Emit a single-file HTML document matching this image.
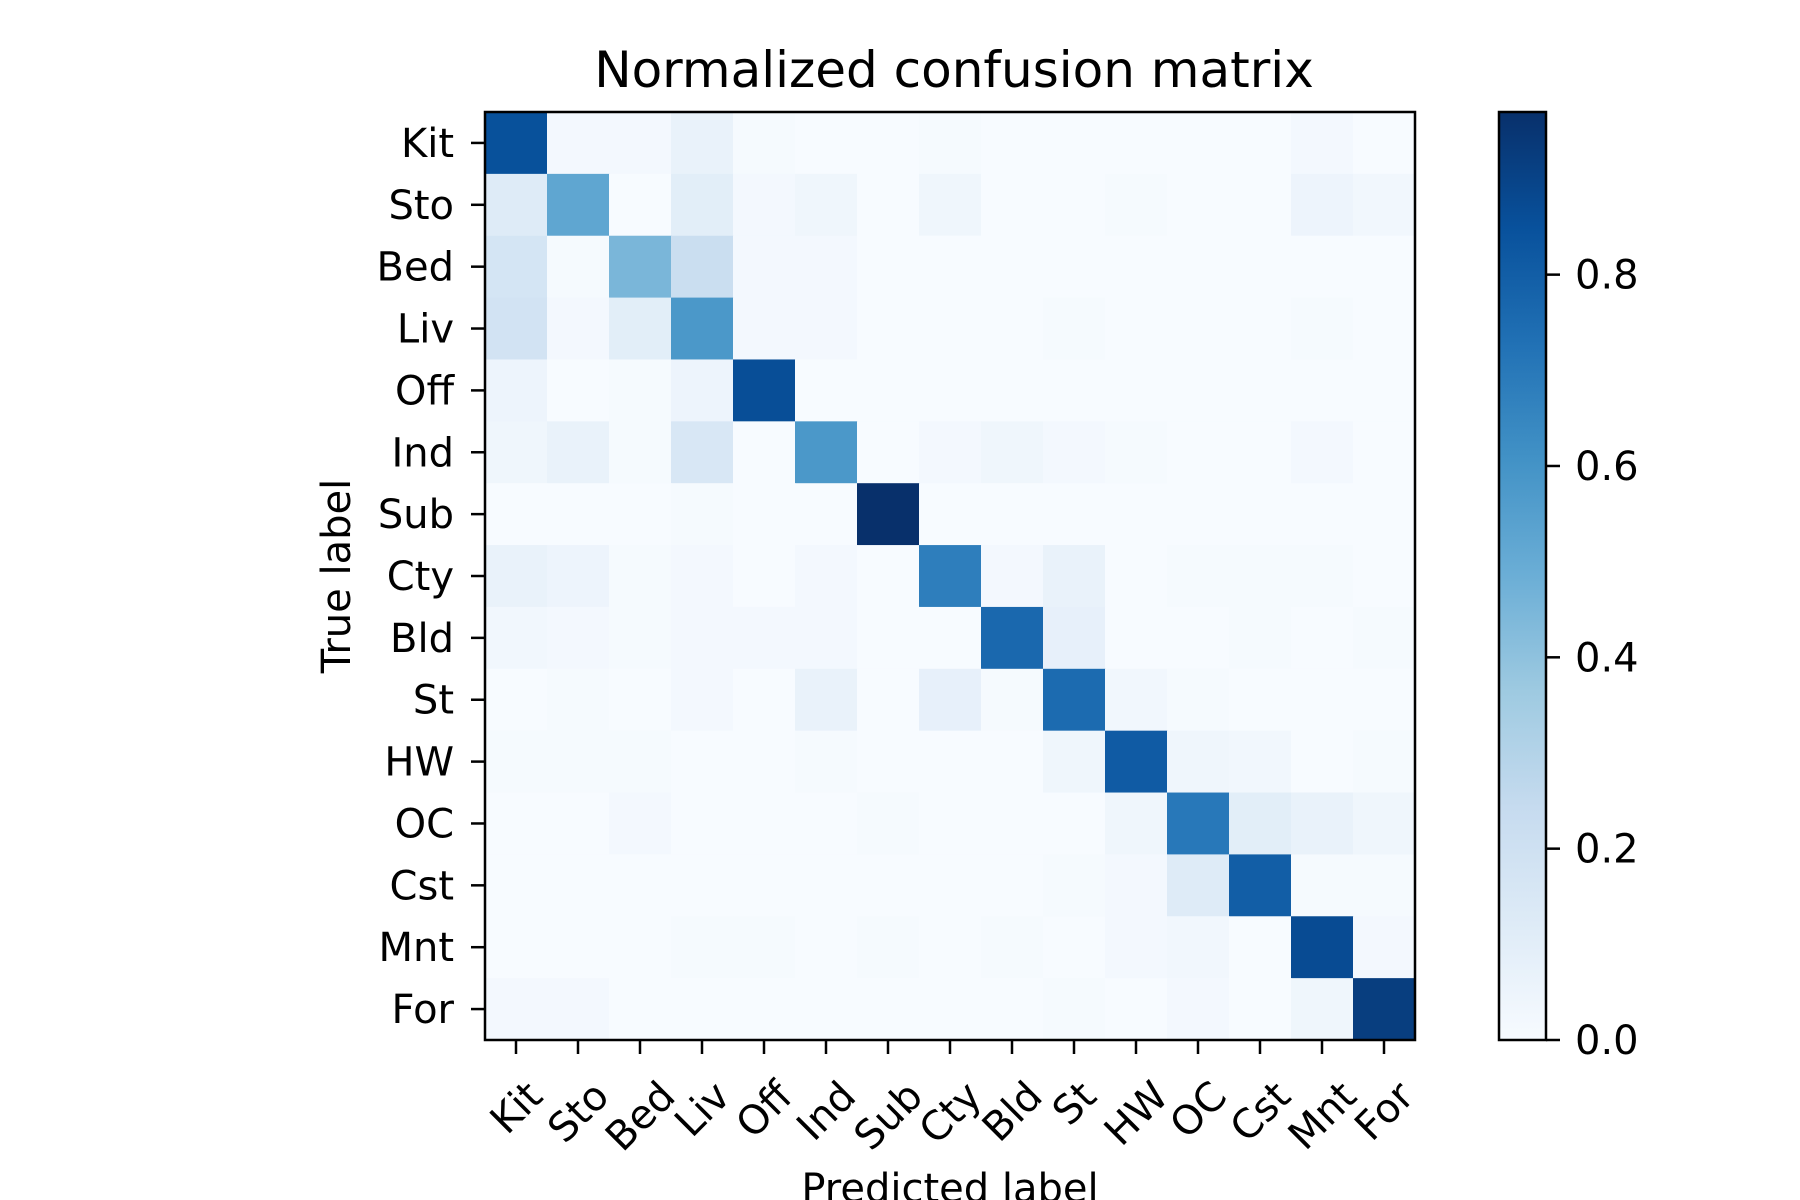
<!DOCTYPE html>
<html><head><meta charset="utf-8"><style>
html,body{margin:0;padding:0;background:#fff}
svg{display:block;font-family:"DejaVu Sans","Liberation Sans",sans-serif}
</style></head><body>
<svg id="chart" width="1800" height="1200" viewBox="0 0 1800 1200">
<rect width="1800" height="1200" fill="#fff"/>
<text x="954" y="87" font-size="50" text-anchor="middle">Normalized confusion matrix</text>
<g id="cells"></g>
<rect x="485" y="112" width="930" height="928" fill="none" stroke="#000" stroke-width="2.5"/>
<g id="ticks"></g>
<text x="0" y="0" font-size="40" text-anchor="middle" transform="translate(350,576) rotate(-90)">True label</text>
<text x="950" y="1202" font-size="40" text-anchor="middle">Predicted label</text>
<defs><linearGradient id="cbg" x1="0" y1="1" x2="0" y2="0"></linearGradient></defs>
<rect x="1499" y="112" width="47" height="928" fill="url(#cbg)" stroke="#000" stroke-width="2.5"/>
<g id="cbticks"></g>
</svg>
<script>
const labels = ["Kit","Sto","Bed","Liv","Off","Ind","Sub","Cty","Bld","St","HW","OC","Cst","Mnt","For"];
const row0 = [0.85,0.02,0.02,0.07,0.01,0,0,0.01,0,0,0,0,0,0.02,0];
const row1 = [0.12,0.52,0,0.10,0.02,0.04,0,0.04,0,0,0.01,0,0,0.05,0.03];
const row2 = [0.17,0.01,0.45,0.22,0.02,0.02,0,0,0,0,0,0,0,0,0];
const row3 = [0.18,0.02,0.10,0.58,0.02,0.02,0,0,0,0.01,0,0,0,0.01,0];
const row4 = [0.05,0,0.01,0.05,0.86,0,0,0,0,0,0,0,0,0,0];
const row5 = [0.04,0.07,0.01,0.15,0,0.58,0,0.02,0.04,0.02,0.01,0,0,0.02,0];
const row6 = [0,0,0,0.01,0,0,0.97,0,0,0,0,0,0,0,0];
const row7 = [0.07,0.05,0.01,0.02,0,0.02,0,0.68,0.02,0.07,0,0.01,0.01,0.01,0];
const row8 = [0.03,0.02,0.01,0.02,0.02,0.02,0,0,0.76,0.08,0,0,0.01,0,0.01];
const row9 = [0,0.01,0,0.02,0,0.07,0,0.08,0.01,0.75,0.03,0.01,0,0,0];
const row10 = [0.01,0.01,0.01,0,0,0.01,0,0,0,0.04,0.81,0.04,0.03,0,0.01];
const row11 = [0,0,0.02,0,0,0,0.01,0,0,0,0.04,0.70,0.10,0.07,0.04];
const row12 = [0,0,0,0,0,0,0,0,0,0.01,0.02,0.12,0.80,0.01,0.01];
const row13 = [0,0,0,0.01,0.01,0,0.01,0,0.01,0,0.02,0.03,0,0.87,0.02];
const row14 = [0.02,0.02,0,0,0,0,0,0,0,0.01,0,0.02,0,0.04,0.92];
const matrix = [row0,row1,row2,row3,row4,row5,row6,row7,row8,row9,row10,row11,row12,row13,row14];
const cbTicks = [0.0,0.2,0.4,0.6,0.8];
const vmax = 0.97;

const NS="http://www.w3.org/2000/svg";
const X0=485,Y0=112,W=930,H=928,n=labels.length;
const cw=W/n, ch=H/n;
const xs=i=>X0+i*cw, ys=i=>Y0+i*ch;
const stops=["#f7fbff","#deebf7","#c6dbef","#9ecae1","#6baed6","#4292c6","#2171b5","#08519c","#08306b"];
function hex(h){return [1,3,5].map(k=>parseInt(h.substr(k,2),16));}
function blues(t){t=Math.max(0,Math.min(1,t));const p=t*8,i=Math.min(7,Math.floor(p)),f=p-i;
 const a=hex(stops[i]),b=hex(stops[i+1]);return "rgb("+a.map((v,k)=>Math.round(v+(b[k]-v)*f)).join(",")+")";}
const cg=document.getElementById("cells");
matrix.forEach((row,r)=>row.forEach((v,c)=>{
 const el=document.createElementNS(NS,"rect");
 el.setAttribute("x",xs(c));el.setAttribute("y",ys(r));
 el.setAttribute("width",cw+0.6);el.setAttribute("height",ch+0.6);
 el.setAttribute("fill",blues(v/vmax));
 
 
 cg.appendChild(el);
}));
const tg=document.getElementById("ticks");
labels.forEach((lab,i)=>{
 const cx=xs(i)+cw/2, cy=ys(i)+ch/2;
 const yt=document.createElementNS(NS,"line");
 yt.setAttribute("x1",X0-14);yt.setAttribute("x2",X0);yt.setAttribute("y1",cy);yt.setAttribute("y2",cy);
 yt.setAttribute("stroke","#000");yt.setAttribute("stroke-width","2.5");
 
 
 tg.appendChild(yt);
 const yl=document.createElementNS(NS,"text");
 yl.setAttribute("x",454);yl.setAttribute("y",cy+14);yl.setAttribute("font-size","40");yl.setAttribute("text-anchor","end");
 yl.textContent=lab;
 
 
 tg.appendChild(yl);
 const xt=document.createElementNS(NS,"line");
 xt.setAttribute("x1",cx);xt.setAttribute("x2",cx);xt.setAttribute("y1",Y0+H);xt.setAttribute("y2",Y0+H+14);
 xt.setAttribute("stroke","#000");xt.setAttribute("stroke-width","2.5");
 
 
 tg.appendChild(xt);
 const xl=document.createElementNS(NS,"text");
 xl.setAttribute("font-size","40");xl.setAttribute("text-anchor","middle");
 xl.textContent=lab;
 
 
 tg.appendChild(xl);
 const w=xl.getComputedTextLength();
 const hgt=(w+30)*0.7071;
 const centerY=1078+hgt/2;
 xl.setAttribute("x",0);xl.setAttribute("y",14);
 xl.setAttribute("transform","translate("+cx+","+centerY+") rotate(-45)");
});
const grad=document.getElementById("cbg");
stops.forEach((s,i)=>{const st=document.createElementNS(NS,"stop");
 st.setAttribute("offset",(i/8*100)+"%");st.setAttribute("stop-color",s);grad.appendChild(st);});
const cbt=document.getElementById("cbticks");
const cbY=v=>Y0+H-v/vmax*H;
cbTicks.forEach(v=>{
 const y=cbY(v);
 const l=document.createElementNS(NS,"line");
 l.setAttribute("x1",1546);l.setAttribute("x2",1560);l.setAttribute("y1",y);l.setAttribute("y2",y);
 l.setAttribute("stroke","#000");l.setAttribute("stroke-width","2.5");
 
 
 cbt.appendChild(l);
 const t=document.createElementNS(NS,"text");
 t.setAttribute("x",1575);t.setAttribute("y",y+14);t.setAttribute("font-size","40");
 t.textContent=v.toFixed(1);
 
 
 cbt.appendChild(t);
});
</script>
</body></html>
